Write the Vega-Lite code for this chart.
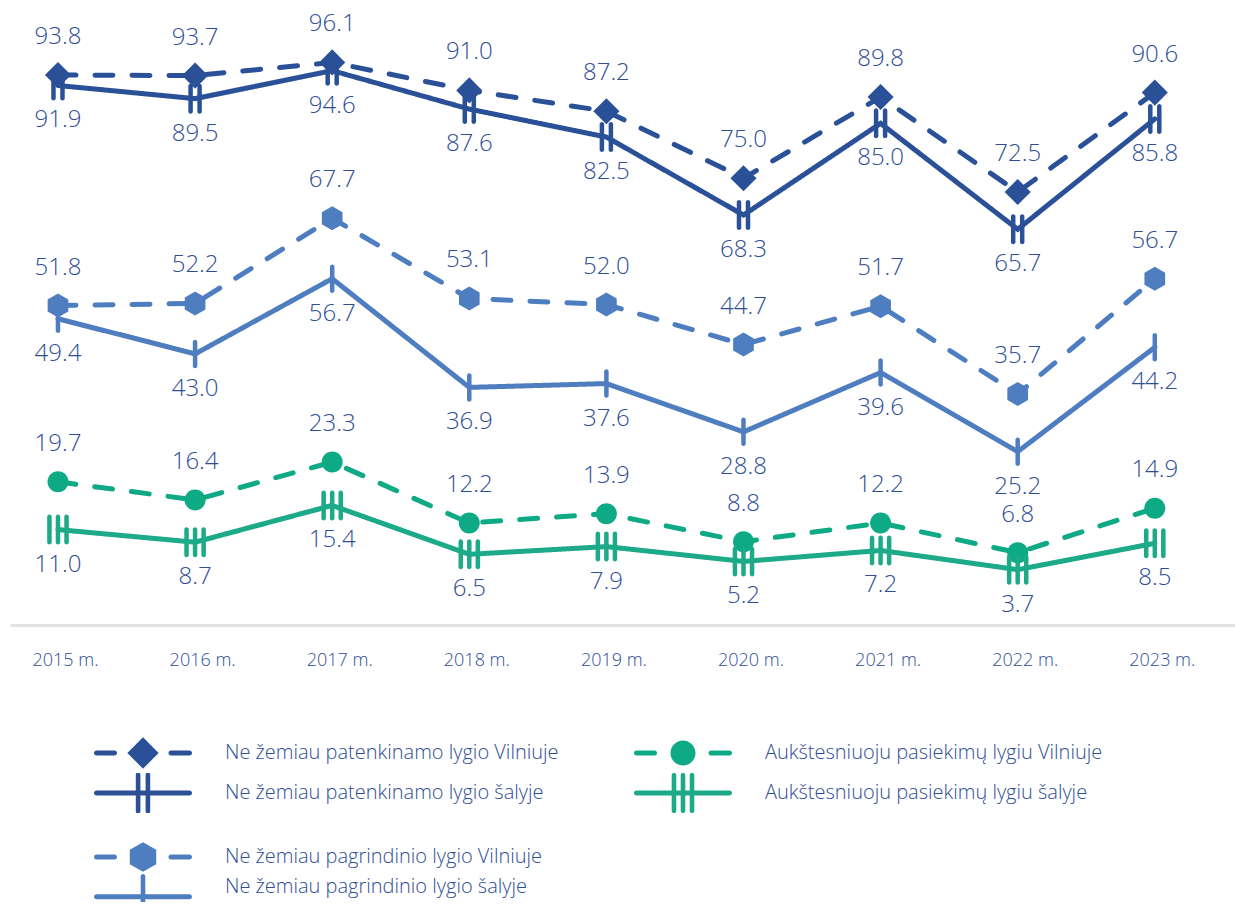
{
  "$schema": "https://vega.github.io/schema/vega-lite/v6.json",
  "width": 1225,
  "height": 625,
  "padding": {"left": 10, "top": 0, "right": 0, "bottom": 0},
  "autosize": {"type": "pad"},
  "config": {
    "view": {"stroke": null},
    "font": "Open Sans",
    "legend": {
      "title": null,
      "padding": 0,
      "symbolSize": 9604,
      "symbolStrokeWidth": 0,
      "symbolOpacity": 1,
      "labelFont": "Open Sans",
      "labelFontSize": 20,
      "labelFontWeight": 300,
      "labelColor": "#2e4e96",
      "labelOffset": 33,
      "labelLimit": 0,
      "rowPadding": 0
    }
  },
  "data": {
    "values": [
      {"year": 2015, "series": "Ne žemiau patenkinamo lygio Vilniuje", "place": "Vilniuje", "value": 93.8},
      {"year": 2016, "series": "Ne žemiau patenkinamo lygio Vilniuje", "place": "Vilniuje", "value": 93.7},
      {"year": 2017, "series": "Ne žemiau patenkinamo lygio Vilniuje", "place": "Vilniuje", "value": 96.1},
      {"year": 2018, "series": "Ne žemiau patenkinamo lygio Vilniuje", "place": "Vilniuje", "value": 91.0},
      {"year": 2019, "series": "Ne žemiau patenkinamo lygio Vilniuje", "place": "Vilniuje", "value": 87.2},
      {"year": 2020, "series": "Ne žemiau patenkinamo lygio Vilniuje", "place": "Vilniuje", "value": 75.0},
      {"year": 2021, "series": "Ne žemiau patenkinamo lygio Vilniuje", "place": "Vilniuje", "value": 89.8},
      {"year": 2022, "series": "Ne žemiau patenkinamo lygio Vilniuje", "place": "Vilniuje", "value": 72.5},
      {"year": 2023, "series": "Ne žemiau patenkinamo lygio Vilniuje", "place": "Vilniuje", "value": 90.6},
      {"year": 2015, "series": "Ne žemiau patenkinamo lygio šalyje", "place": "šalyje", "value": 91.9},
      {"year": 2016, "series": "Ne žemiau patenkinamo lygio šalyje", "place": "šalyje", "value": 89.5},
      {"year": 2017, "series": "Ne žemiau patenkinamo lygio šalyje", "place": "šalyje", "value": 94.6},
      {"year": 2018, "series": "Ne žemiau patenkinamo lygio šalyje", "place": "šalyje", "value": 87.6},
      {"year": 2019, "series": "Ne žemiau patenkinamo lygio šalyje", "place": "šalyje", "value": 82.5},
      {"year": 2020, "series": "Ne žemiau patenkinamo lygio šalyje", "place": "šalyje", "value": 68.3},
      {"year": 2021, "series": "Ne žemiau patenkinamo lygio šalyje", "place": "šalyje", "value": 85.0},
      {"year": 2022, "series": "Ne žemiau patenkinamo lygio šalyje", "place": "šalyje", "value": 65.7},
      {"year": 2023, "series": "Ne žemiau patenkinamo lygio šalyje", "place": "šalyje", "value": 85.8},
      {"year": 2015, "series": "Ne žemiau pagrindinio lygio Vilniuje", "place": "Vilniuje", "value": 51.8},
      {"year": 2016, "series": "Ne žemiau pagrindinio lygio Vilniuje", "place": "Vilniuje", "value": 52.2},
      {"year": 2017, "series": "Ne žemiau pagrindinio lygio Vilniuje", "place": "Vilniuje", "value": 67.7},
      {"year": 2018, "series": "Ne žemiau pagrindinio lygio Vilniuje", "place": "Vilniuje", "value": 53.1},
      {"year": 2019, "series": "Ne žemiau pagrindinio lygio Vilniuje", "place": "Vilniuje", "value": 52.0},
      {"year": 2020, "series": "Ne žemiau pagrindinio lygio Vilniuje", "place": "Vilniuje", "value": 44.7},
      {"year": 2021, "series": "Ne žemiau pagrindinio lygio Vilniuje", "place": "Vilniuje", "value": 51.7},
      {"year": 2022, "series": "Ne žemiau pagrindinio lygio Vilniuje", "place": "Vilniuje", "value": 35.7},
      {"year": 2023, "series": "Ne žemiau pagrindinio lygio Vilniuje", "place": "Vilniuje", "value": 56.7},
      {"year": 2015, "series": "Ne žemiau pagrindinio lygio šalyje", "place": "šalyje", "value": 49.4},
      {"year": 2016, "series": "Ne žemiau pagrindinio lygio šalyje", "place": "šalyje", "value": 43.0},
      {"year": 2017, "series": "Ne žemiau pagrindinio lygio šalyje", "place": "šalyje", "value": 56.7},
      {"year": 2018, "series": "Ne žemiau pagrindinio lygio šalyje", "place": "šalyje", "value": 36.9},
      {"year": 2019, "series": "Ne žemiau pagrindinio lygio šalyje", "place": "šalyje", "value": 37.6},
      {"year": 2020, "series": "Ne žemiau pagrindinio lygio šalyje", "place": "šalyje", "value": 28.8},
      {"year": 2021, "series": "Ne žemiau pagrindinio lygio šalyje", "place": "šalyje", "value": 39.6},
      {"year": 2022, "series": "Ne žemiau pagrindinio lygio šalyje", "place": "šalyje", "value": 25.2},
      {"year": 2023, "series": "Ne žemiau pagrindinio lygio šalyje", "place": "šalyje", "value": 44.2},
      {"year": 2015, "series": "Aukštesniuoju pasiekimų lygiu Vilniuje", "place": "Vilniuje", "value": 19.7},
      {"year": 2016, "series": "Aukštesniuoju pasiekimų lygiu Vilniuje", "place": "Vilniuje", "value": 16.4},
      {"year": 2017, "series": "Aukštesniuoju pasiekimų lygiu Vilniuje", "place": "Vilniuje", "value": 23.3},
      {"year": 2018, "series": "Aukštesniuoju pasiekimų lygiu Vilniuje", "place": "Vilniuje", "value": 12.2},
      {"year": 2019, "series": "Aukštesniuoju pasiekimų lygiu Vilniuje", "place": "Vilniuje", "value": 13.9},
      {"year": 2020, "series": "Aukštesniuoju pasiekimų lygiu Vilniuje", "place": "Vilniuje", "value": 8.8},
      {"year": 2021, "series": "Aukštesniuoju pasiekimų lygiu Vilniuje", "place": "Vilniuje", "value": 12.2},
      {"year": 2022, "series": "Aukštesniuoju pasiekimų lygiu Vilniuje", "place": "Vilniuje", "value": 6.8},
      {"year": 2023, "series": "Aukštesniuoju pasiekimų lygiu Vilniuje", "place": "Vilniuje", "value": 14.9},
      {"year": 2015, "series": "Aukštesniuoju pasiekimų lygiu šalyje", "place": "šalyje", "value": 11.0},
      {"year": 2016, "series": "Aukštesniuoju pasiekimų lygiu šalyje", "place": "šalyje", "value": 8.7},
      {"year": 2017, "series": "Aukštesniuoju pasiekimų lygiu šalyje", "place": "šalyje", "value": 15.4},
      {"year": 2018, "series": "Aukštesniuoju pasiekimų lygiu šalyje", "place": "šalyje", "value": 6.5},
      {"year": 2019, "series": "Aukštesniuoju pasiekimų lygiu šalyje", "place": "šalyje", "value": 7.9},
      {"year": 2020, "series": "Aukštesniuoju pasiekimų lygiu šalyje", "place": "šalyje", "value": 5.2},
      {"year": 2021, "series": "Aukštesniuoju pasiekimų lygiu šalyje", "place": "šalyje", "value": 7.2},
      {"year": 2022, "series": "Aukštesniuoju pasiekimų lygiu šalyje", "place": "šalyje", "value": 3.7},
      {"year": 2023, "series": "Aukštesniuoju pasiekimų lygiu šalyje", "place": "šalyje", "value": 8.5}
    ]
  },
  "encoding": {
    "x": {
      "field": "year",
      "type": "quantitative",
      "scale": {"domain": [2014.65, 2023.585], "nice": false, "zero": false},
      "axis": {
        "values": [2015, 2016, 2017, 2018, 2019, 2020, 2021, 2022, 2023],
        "format": "d",
        "labelExpr": "datum.label + ' m.'",
        "title": null,
        "grid": false,
        "ticks": false,
        "domainColor": "#e2e2e2",
        "domainWidth": 3,
        "labelFont": "Open Sans",
        "labelFontSize": 18,
        "labelFontWeight": 300,
        "labelColor": "#2e4e96",
        "labelBaseline": "middle",
        "labelPadding": 35,
        "labelOffset": 7,
        "labelFlush": false,
        "labelOverlap": false
      }
    },
    "y": {
      "field": "value",
      "type": "quantitative",
      "scale": {"domain": [-6.38, 107.47], "nice": false, "zero": false},
      "axis": null
    }
  },
  "layer": [
    {
      "layer": [
        {
          "mark": {"type": "line", "strokeWidth": 5, "strokeCap": "round", "strokeJoin": "miter"},
          "encoding": {
            "color": {
              "field": "series",
              "type": "nominal",
              "scale": {
                "domain": ["Ne žemiau patenkinamo lygio Vilniuje", "Ne žemiau patenkinamo lygio šalyje", "Ne žemiau pagrindinio lygio Vilniuje", "Ne žemiau pagrindinio lygio šalyje", "Aukštesniuoju pasiekimų lygiu Vilniuje", "Aukštesniuoju pasiekimų lygiu šalyje"],
                "range": ["#2a5197", "#2a5197", "#4f7ec0", "#4f7ec0", "#0eaa86", "#1caa89"]
              },
              "legend": null
            },
            "strokeDash": {
              "field": "place",
              "type": "nominal",
              "scale": {"domain": ["Vilniuje", "šalyje"], "range": [[18, 19], [1, 0]]},
              "legend": null
            }
          }
        },
        {
          "mark": {"type": "point", "filled": true, "opacity": 1, "size": 900, "strokeWidth": 0},
          "encoding": {
            "color": {"field": "series", "type": "nominal", "legend": null},
            "shape": {
              "field": "series",
              "type": "nominal",
              "scale": {
                "domain": ["Ne žemiau patenkinamo lygio Vilniuje", "Ne žemiau patenkinamo lygio šalyje", "Ne žemiau pagrindinio lygio Vilniuje", "Ne žemiau pagrindinio lygio šalyje", "Aukštesniuoju pasiekimų lygiu Vilniuje", "Aukštesniuoju pasiekimų lygiu šalyje"],
                "range": [
                  "M0,-0.87L0.87,0L0,0.87L-0.87,0Z",
                  "M-0.45,-0.85A0.15,0.15,0,0,1,-0.15,-0.85V0.85A0.15,0.15,0,0,1,-0.45,0.85Z M0.15,-0.85A0.15,0.15,0,0,1,0.45,-0.85V0.85A0.15,0.15,0,0,1,0.15,0.85Z",
                  "M0,-0.8L0.69,-0.4L0.69,0.4L0,0.8L-0.69,0.4L-0.69,-0.4Z",
                  "M-0.15,-0.8A0.15,0.15,0,0,1,0.15,-0.8V0.8A0.15,0.15,0,0,1,-0.15,0.8Z",
                  "M-0.7,0A0.7,0.7,0,1,1,0.7,0A0.7,0.7,0,1,1,-0.7,0Z",
                  "M-0.72,-0.85A0.15,0.15,0,0,1,-0.42,-0.85V0.85A0.15,0.15,0,0,1,-0.72,0.85Z M-0.15,-0.85A0.15,0.15,0,0,1,0.15,-0.85V0.85A0.15,0.15,0,0,1,-0.15,0.85Z M0.42,-0.85A0.15,0.15,0,0,1,0.72,-0.85V0.85A0.15,0.15,0,0,1,0.42,0.85Z"
                ]
              },
              "legend": null
            }
          }
        },
        {
          "transform": [{"filter": "datum.place == 'Vilniuje'"}],
          "mark": {"type": "text", "dy": -38, "baseline": "middle", "fontSize": 24, "fontWeight": 300, "font": "Open Sans", "color": "#2e4e96"},
          "encoding": {"text": {"field": "value", "type": "quantitative", "format": ".1f"}}
        },
        {
          "transform": [{"filter": "datum.place == 'šalyje'"}],
          "mark": {"type": "text", "dy": 35, "baseline": "middle", "fontSize": 24, "fontWeight": 300, "font": "Open Sans", "color": "#2e4e96"},
          "encoding": {"text": {"field": "value", "type": "quantitative", "format": ".1f"}}
        }
      ]
    },
    {
      "transform": [{"filter": {"field": "series", "oneOf": ["Ne žemiau patenkinamo lygio Vilniuje", "Ne žemiau patenkinamo lygio šalyje", "Aukštesniuoju pasiekimų lygiu Vilniuje", "Aukštesniuoju pasiekimų lygiu šalyje"]}}],
      "mark": {"type": "point", "filled": true, "opacity": 0},
      "encoding": {
        "color": {
          "field": "series",
          "type": "nominal",
          "scale": {
            "domain": ["Ne žemiau patenkinamo lygio Vilniuje", "Ne žemiau patenkinamo lygio šalyje", "Aukštesniuoju pasiekimų lygiu Vilniuje", "Aukštesniuoju pasiekimų lygiu šalyje"],
            "range": ["#2a5197", "#2a5197", "#0eaa86", "#1caa89"]
          },
          "legend": {"orient": "none", "legendX": 84, "legendY": 733, "columns": 2, "columnPadding": 75, "clipHeight": 40}
        },
        "shape": {
          "field": "series",
          "type": "nominal",
          "scale": {
            "domain": ["Ne žemiau patenkinamo lygio Vilniuje", "Ne žemiau patenkinamo lygio šalyje", "Aukštesniuoju pasiekimų lygiu Vilniuje", "Aukštesniuoju pasiekimų lygiu šalyje"],
            "range": [
              "M-0.95,-0.05H-0.58A0.05,0.05,0,0,1,-0.58,0.05H-0.95A0.05,0.05,0,0,1,-0.95,-0.05Z M0.57,-0.05H0.95A0.05,0.05,0,0,1,0.95,0.05H0.57A0.05,0.05,0,0,1,0.57,-0.05Z M0,-0.32L0.32,0L0,0.32L-0.32,0Z",
              "M-0.95,-0.05H0.95A0.05,0.05,0,0,1,0.95,0.05H-0.95A0.05,0.05,0,0,1,-0.95,-0.05Z M-0.147,-0.373A0.047,0.047,0,0,1,-0.053,-0.373V0.373A0.047,0.047,0,0,1,-0.147,0.373Z M0.053,-0.373A0.047,0.047,0,0,1,0.147,-0.373V0.373A0.047,0.047,0,0,1,0.053,0.373Z",
              "M-0.95,-0.05H-0.58A0.05,0.05,0,0,1,-0.58,0.05H-0.95A0.05,0.05,0,0,1,-0.95,-0.05Z M0.57,-0.05H0.95A0.05,0.05,0,0,1,0.95,0.05H0.57A0.05,0.05,0,0,1,0.57,-0.05Z M-0.255,0A0.255,0.255,0,1,1,0.255,0A0.255,0.255,0,1,1,-0.255,0Z",
              "M-0.95,-0.05H0.95A0.05,0.05,0,0,1,0.95,0.05H-0.95A0.05,0.05,0,0,1,-0.95,-0.05Z M-0.231,-0.363A0.047,0.047,0,0,1,-0.137,-0.363V0.363A0.047,0.047,0,0,1,-0.231,0.363Z M-0.047,-0.363A0.047,0.047,0,0,1,0.047,-0.363V0.363A0.047,0.047,0,0,1,-0.047,0.363Z M0.137,-0.363A0.047,0.047,0,0,1,0.231,-0.363V0.363A0.047,0.047,0,0,1,0.137,0.363Z"
            ]
          },
          "legend": {"orient": "none", "legendX": 84, "legendY": 733, "columns": 2, "columnPadding": 75, "clipHeight": 40}
        }
      }
    },
    {
      "transform": [{"filter": {"field": "series", "oneOf": ["Ne žemiau pagrindinio lygio Vilniuje", "Ne žemiau pagrindinio lygio šalyje"]}}],
      "mark": {"type": "point", "filled": true, "opacity": 0},
      "encoding": {
        "color": {
          "field": "series",
          "type": "nominal",
          "scale": {
            "domain": ["Ne žemiau pagrindinio lygio Vilniuje", "Ne žemiau pagrindinio lygio šalyje"],
            "range": ["#4f7ec0", "#4f7ec0"]
          },
          "legend": {"orient": "none", "legendX": 84, "legendY": 842, "columns": 1, "clipHeight": 30}
        },
        "shape": {
          "field": "series",
          "type": "nominal",
          "scale": {
            "domain": ["Ne žemiau pagrindinio lygio Vilniuje", "Ne žemiau pagrindinio lygio šalyje"],
            "range": [
              "M-0.95,-0.05H-0.58A0.05,0.05,0,0,1,-0.58,0.05H-0.95A0.05,0.05,0,0,1,-0.95,-0.05Z M0.57,-0.05H0.95A0.05,0.05,0,0,1,0.95,0.05H0.57A0.05,0.05,0,0,1,0.57,-0.05Z M0,-0.3L0.27,-0.15L0.27,0.15L0,0.3L-0.27,0.15L-0.27,-0.15Z",
              "M-0.95,0.15H0.95A0.05,0.05,0,0,1,0.95,0.25H-0.95A0.05,0.05,0,0,1,-0.95,0.15Z M-0.047,-0.22A0.047,0.047,0,0,1,0.047,-0.22V0.7A0.047,0.047,0,0,1,-0.047,0.7Z"
            ]
          },
          "legend": {"orient": "none", "legendX": 84, "legendY": 842, "columns": 1, "clipHeight": 30}
        }
      }
    }
  ],
  "resolve": {
    "scale": {"color": "independent", "shape": "independent"},
    "legend": {"color": "independent", "shape": "independent"}
  }
}
